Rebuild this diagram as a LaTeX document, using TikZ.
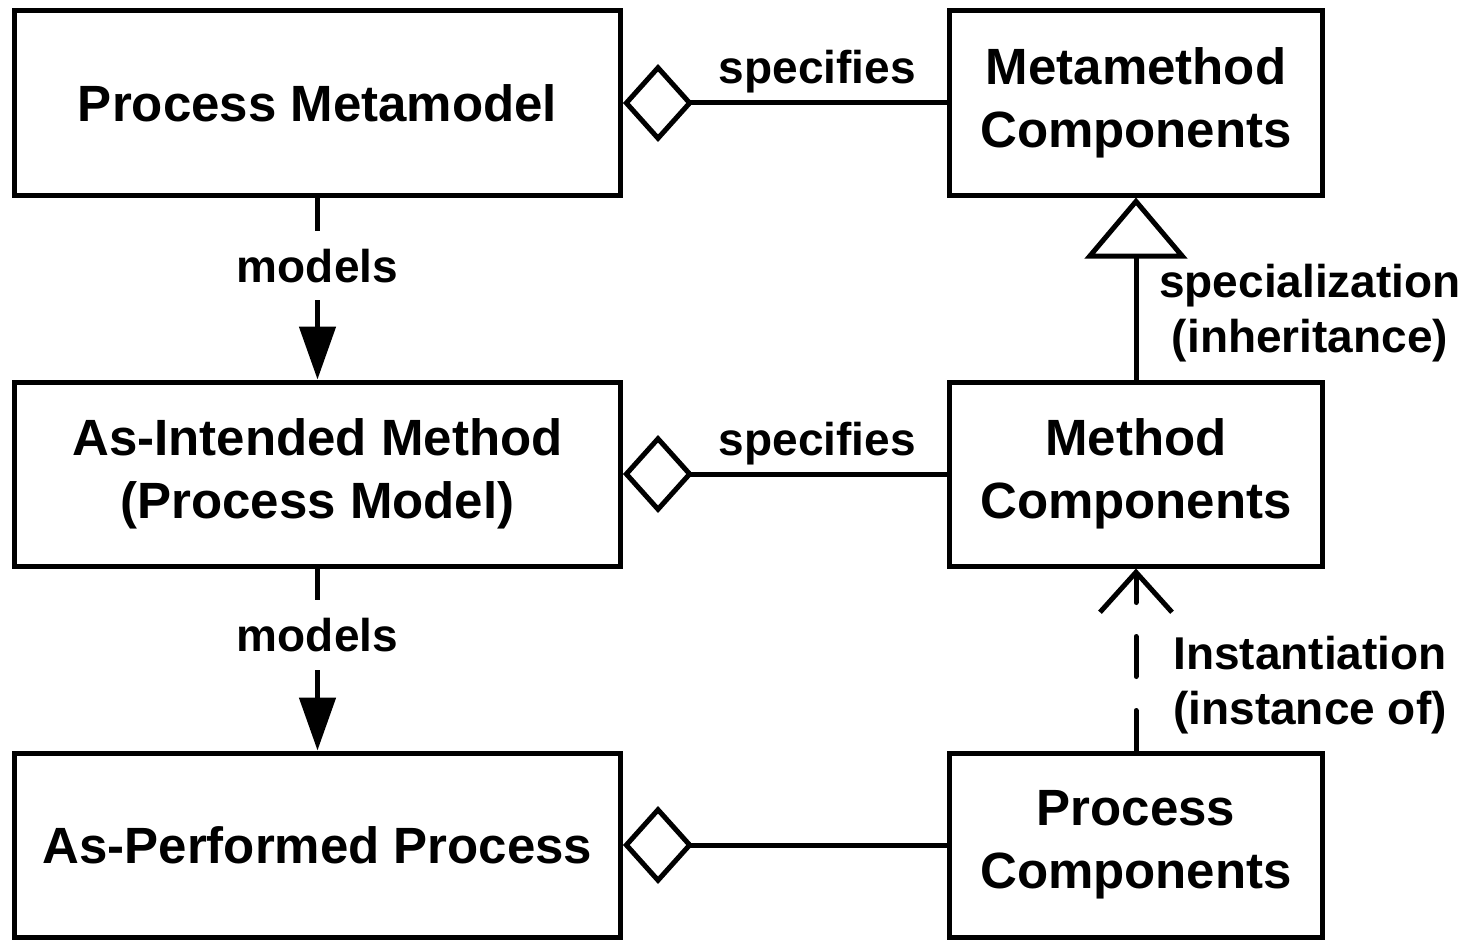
\documentclass[tikz,border=0pt]{standalone}
\usepackage{fontspec}
\setmainfont{Liberation Sans}
\usetikzlibrary{arrows.meta}
\begin{document}
\begin{tikzpicture}[x=1pt,y=-1pt,line width=5pt,
  box/.style={draw,line width=5pt,minimum height=184pt,inner sep=0pt,align=center,
    font=\bfseries\fontsize{51}{63}\selectfont},
  lbl/.style={font=\bfseries\fontsize{46}{55}\selectfont,align=center,inner sep=0pt},
  agg/.style={{Diamond[open,length=70pt,width=78pt]}-},
  modelsarrow/.style={-{Triangle[length=53pt,width=36pt]}},
  gen/.style={-{Triangle[open,length=61pt,width=102pt]}},
  inst/.style={-{Straight Barb[length=40pt,width=72pt]},line cap=round,dash pattern=on 40pt off 34pt}]
\useasboundingbox (0,0) rectangle (1474,939);
% boxes
\node[box,minimum width=606pt] (pm) at (317.5,103) {Process Metamodel};
\node[box,minimum width=606pt] (ai) at (317.5,474) {As-Intended Method\\(Process Model)};
\node[box,minimum width=606pt] (ap) at (317.5,845) {As-Performed Process};
\node[box,minimum width=373pt] (mmc) at (1136,103) {Metamethod\\Components};
\node[box,minimum width=373pt] (mc) at (1136,474) {Method\\Components};
\node[box,minimum width=373pt] (pc) at (1136,845) {Process\\Components};
% aggregations
\draw[agg] (pm.east) -- node[lbl,pos=0.6,anchor=base,yshift=19pt] (s1) {specifies} (mmc.west);
\draw[agg] (ai.east) -- node[lbl,pos=0.6,anchor=base,yshift=19pt] (s2) {specifies} (mc.west);
\draw[agg] (ap.east) -- (pc.west);
% models
\draw[modelsarrow] (pm.south) -- node[lbl,pos=0.374,fill=white,inner xsep=4pt,inner ysep=18pt] (m1) {models} (ai.north);
\draw[modelsarrow] (ai.south) -- node[lbl,pos=0.366,fill=white,inner xsep=4pt,inner ysep=18pt] (m2) {models} (ap.north);
% specialization
\draw[gen] (mc.north) -- (mmc.south);
\node[lbl] (spl) at (1310,313) {specialization\\(inheritance)};
% instantiation
\draw[inst] (pc.north) -- (mc.south);
\node[lbl] (insl) at (1310,685) {Instantiation\\(instance of)};
\end{tikzpicture}
\end{document}
